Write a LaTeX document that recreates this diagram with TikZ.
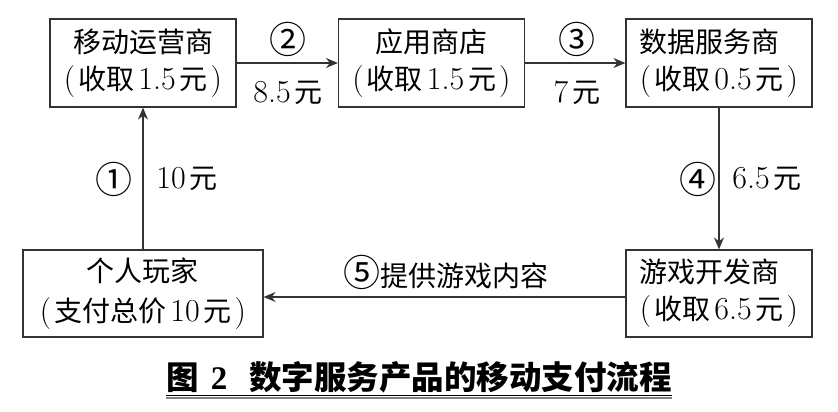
\documentclass[tikz,border=0pt]{standalone}
\usepackage{fontspec}
\newfontfamily\cjk{Noto Sans CJK SC}
\newfontfamily\capnum{Liberation Serif}
\usetikzlibrary{arrows.meta}
\definecolor{ln}{HTML}{333333}
\newcommand\C[1]{{\fontsize{28}{37}\selectfont\cjk #1}}
\newcommand\Q[1]{{\fontsize{37}{37}\selectfont\cjk #1}}
\newcommand\Pa[1]{(\hspace{3pt}#1\hspace{3pt})}
\newcommand\Sp{\hspace{4pt}}
\tikzset{
  boxnode/.style={draw=ln, line width=1.2pt, minimum width=186pt, minimum height=88pt, inner sep=0pt,
    font=\fontsize{32}{37}\selectfont, text=black},
  lbl/.style={font=\fontsize{32}{37}\selectfont, inner sep=0pt, text=black},
  conn/.style={draw=ln, line width=1.2pt, -{Stealth[length=12pt,width=10pt,inset=4pt]}}
}
\begin{document}
\begin{tikzpicture}[x=1pt,y=-1pt]
\useasboundingbox (0,0) rectangle (838,412);
\node[boxnode, align=center] (b1) at (143,63) {\C{移动运营商}\\\Pa{\C{收取}\Sp1.5\Sp\C{元}}};
\node[boxnode, align=center] (b2) at (431.5,63) {\C{应用商店}\\\Pa{\C{收取}\Sp1.5\Sp\C{元}}};
\node[boxnode, align=left] (b3) at (719,63) {\C{数据服务商}\\\Pa{\C{收取}\Sp0.5\Sp\C{元}}};
\node[boxnode, align=center, minimum width=240pt, minimum height=87pt] (b4) at (143,293.5) {\C{个人玩家}\\[3pt]\Pa{\C{支付总价}\Sp10\Sp\C{元}}};
\node[boxnode, align=left, minimum height=87pt] (b5) at (719,293.5) {\C{游戏开发商}\\\Pa{\C{收取}\Sp6.5\Sp\C{元}}};
\draw[conn] (b1) -- (b2);
\draw[conn] (b2) -- (b3);
\draw[conn] (b3) -- (b5);
\draw[conn] ([yshift=-3.5pt]b5.west) -- ([yshift=-3.5pt]b4.east);
\draw[conn] (b4) -- (b1);
\node[lbl] (l2) at (288,39) {\Q{②}};
\node[lbl] (m2) at (288,93) {8.5\Sp\C{元}};
\node[lbl] (l3) at (577,39) {\Q{③}};
\node[lbl] (m3) at (577,93) {7\Sp\C{元}};
\node[lbl] (l1) at (114,179) {\Q{①}};
\node[lbl] (m1) at (187,179) {10\Sp\C{元}};
\node[lbl] (l4) at (698,179) {\Q{④}};
\node[lbl] (m4) at (767,179) {6.5\Sp\C{元}};
\node[lbl] (l5) at (446,272) {\Q{⑤}\C{提供游戏内容}};
\node[inner sep=0pt, font=\fontsize{32.5}{37}\selectfont\bfseries, text=black] (cap) at (419,377)
  {{\cjk 图}\hspace{12pt}{\capnum\fontsize{33}{37}\selectfont\bfseries 2}\hspace{22pt}{\cjk 数字服务产品的移动支付流程}};
\draw[black, line width=1pt] (cap.south west |- 0,395.5) -- (cap.south east |- 0,395.5);
\draw[gray, line width=2pt] (cap.south west |- 0,398.3) -- (cap.south east |- 0,398.3);
\end{tikzpicture}
\end{document}
